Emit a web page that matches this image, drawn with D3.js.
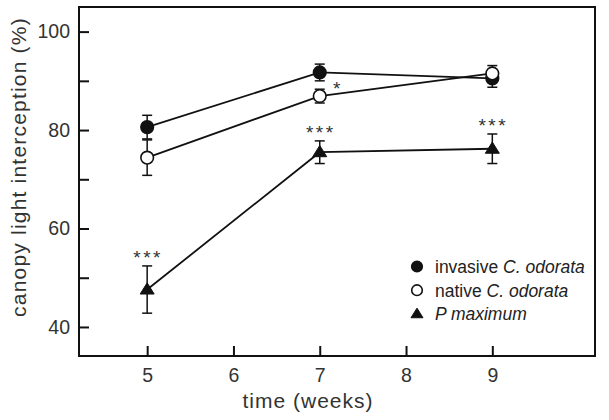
<!DOCTYPE html>
<html><head><meta charset="utf-8">
<script src="https://cdn.jsdelivr.net/npm/d3@7"></script>
<style>body{margin:0;background:#fff;} text{font-family:"Liberation Sans",Arial,sans-serif;}</style>
</head><body><svg id="c" width="609" height="420"></svg>
<script>
const weeks = [5, 7, 9];
const invasive = [80.6, 91.7, 90.5];
const invasiveErr = [2.4, 1.7, 1.8];
const native = [74.4, 86.9, 91.5];
const nativeErr = [3.6, 1.4, 1.6];
const pmax = [47.6, 75.5, 76.2];
const pmaxErr = [4.8, 2.3, 3.0];
const xTicks = [5, 6, 7, 8, 9];
const yTicks = [40, 60, 80, 100];
const yMinor = [50, 70, 90];
const legendLabels = [["invasive ", "C. odorata"], ["native ", "C. odorata"], ["", "P maximum"]];
const sig = [{x:5, y:pmax[0]+pmaxErr[0], t:"***"}, {x:7, y:pmax[1]+pmaxErr[1], t:"***"}, {x:9, y:pmax[2]+pmaxErr[2], t:"***"}];

const svg = d3.select("#c");
const L = 79, R = 595, T = 7, B = 356;
const x = d3.scaleLinear().domain([4.21, 10.19]).range([L, R]);
const y = d3.scaleLinear().domain([34.1, 105.0]).range([B, T]);
const txt = "#333";

// frame
svg.append("rect").attr("x", L).attr("y", T).attr("width", R-L).attr("height", B-T)
  .attr("fill", "none").attr("stroke", "#111").attr("stroke-width", 2);

// y axis ticks (inward)
const yAxis = d3.axisLeft(y).tickValues(yTicks).tickSize(-10).tickPadding(9).tickFormat(d3.format("d"));
const gy = svg.append("g").attr("transform", `translate(${L},0)`).call(yAxis);
gy.select(".domain").remove();
gy.selectAll(".tick line").attr("stroke", "#111").attr("stroke-width", 2);
gy.selectAll(".tick text").attr("fill", txt).style("font-size", "19.5px").attr("font-family", "Liberation Sans, Arial, sans-serif");
const gym = svg.append("g").attr("transform", `translate(${L},0)`).call(d3.axisLeft(y).tickValues(yMinor).tickSize(-10).tickFormat(""));
gym.select(".domain").remove();
gym.selectAll(".tick line").attr("stroke", "#111").attr("stroke-width", 2);

// x axis
const xAxis = d3.axisBottom(x).tickValues(xTicks).tickSize(-10).tickPadding(12).tickFormat(d3.format("d"));
const gx = svg.append("g").attr("transform", `translate(0,${B})`).call(xAxis);
gx.select(".domain").remove();
gx.selectAll(".tick line").attr("stroke", "#111").attr("stroke-width", 2);
gx.selectAll(".tick text").attr("fill", txt).style("font-size", "19.5px").attr("font-family", "Liberation Sans, Arial, sans-serif");

// axis titles
svg.append("text").attr("x", 308).attr("y", 408).attr("text-anchor", "middle")
  .attr("fill", txt).style("font-size", "21px").style("letter-spacing", "1px").text("time (weeks)");
svg.append("text").attr("transform", "translate(26,167) rotate(-90)").attr("text-anchor", "middle")
  .attr("fill", txt).style("font-size", "21px").style("letter-spacing", "1.2px").text("canopy light interception (%)");

const series = [
  {v: invasive, e: invasiveErr, shape: "circle", fill: "#111"},
  {v: native, e: nativeErr, shape: "circle", fill: "#fff"},
  {v: pmax, e: pmaxErr, shape: "triangle", fill: "#111"}
];
const line = d3.line().x((d,i) => x(weeks[i])).y(d => y(d));
series.forEach(s => {
  svg.append("path").attr("d", line(s.v)).attr("fill", "none").attr("stroke", "#111").attr("stroke-width", 1.8);
});
series.forEach(s => {
  s.v.forEach((v,i) => {
    const cx = x(weeks[i]);
    const g = svg.append("g").attr("stroke", "#111").attr("stroke-width", 1.5);
    g.append("line").attr("x1", cx).attr("x2", cx).attr("y1", y(v - s.e[i])).attr("y2", y(v + s.e[i]));
    g.append("line").attr("x1", cx-5).attr("x2", cx+5).attr("y1", y(v + s.e[i])).attr("y2", y(v + s.e[i]));
    g.append("line").attr("x1", cx-5).attr("x2", cx+5).attr("y1", y(v - s.e[i])).attr("y2", y(v - s.e[i]));
  });
});
function marker(g, shape, fill, cx, cy, r, hw) {
  if (shape === "circle") {
    g.append("circle").attr("cx", cx).attr("cy", cy).attr("r", r)
      .attr("fill", fill).attr("stroke", "#111").attr("stroke-width", 1.6);
  } else {
    const h = hw * 1.6;
    g.append("path").attr("d", `M${cx},${cy - h*0.6}L${cx+hw},${cy + h*0.4}L${cx-hw},${cy + h*0.4}Z`)
      .attr("fill", fill).attr("stroke", "#111").attr("stroke-width", 1);
  }
}
series.forEach(s => {
  s.v.forEach((v,i) => marker(svg, s.shape, s.fill, x(weeks[i]), y(v), 6.3, 7));
});

// significance
sig.forEach(d => {
  svg.append("text").attr("x", x(d.x) + 1).attr("y", y(d.y) - 2).attr("text-anchor", "middle")
    .attr("fill", txt).style("font-size", "19px").style("letter-spacing", "2.5px").text(d.t);
});
svg.append("text").attr("x", x(7) + 17).attr("y", y(native[1]) - 1).attr("text-anchor", "middle")
  .attr("fill", txt).style("font-size", "19px").text("*");

// legend
const ly0 = 266.5, ldy = 23.7;
series.forEach((s, i) => {
  marker(svg, s.shape, s.fill, 417, ly0 + i*ldy, 5.3, 6);
  const t = svg.append("text").attr("x", 435).attr("y", ly0 + i*ldy + 6.5).attr("fill", "#222").style("font-size", "17.5px");
  t.append("tspan").text(legendLabels[i][0]);
  t.append("tspan").attr("font-style", "italic").text(legendLabels[i][1]);
});
</script></body></html>
